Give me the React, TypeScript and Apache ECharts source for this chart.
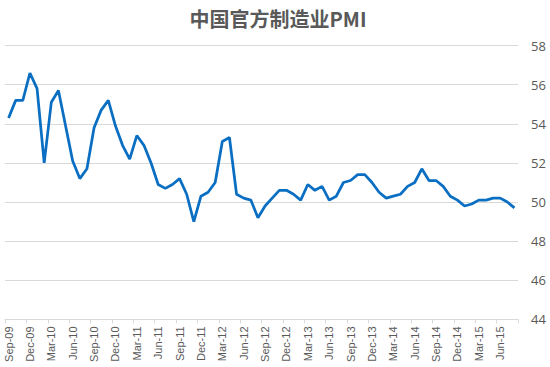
import React, { useEffect, useRef } from "react";
import * as echarts from "echarts";

const TITLE = "中国官方制造业PMI";
const MONTH_NAMES = ["Jan", "Feb", "Mar", "Apr", "May", "Jun", "Jul", "Aug", "Sep", "Oct", "Nov", "Dec"];
const START_YEAR = 2009;
const START_MONTH = 8; // Sep (0-based)
const PMI_VALUES = [
  54.3, 55.2, 55.2, 56.6,
  55.8, 52.0, 55.1, 55.7, 53.9, 52.1, 51.2, 51.7, 53.8, 54.7, 55.2, 53.9,
  52.9, 52.2, 53.4, 52.9, 52.0, 50.9, 50.7, 50.9, 51.2, 50.4, 49.0, 50.3,
  50.5, 51.0, 53.1, 53.3, 50.4, 50.2, 50.1, 49.2, 49.8, 50.2, 50.6, 50.6,
  50.4, 50.1, 50.9, 50.6, 50.8, 50.1, 50.3, 51.0, 51.1, 51.4, 51.4, 51.0,
  50.5, 50.2, 50.3, 50.4, 50.8, 51.0, 51.7, 51.1, 51.1, 50.8, 50.3, 50.1,
  49.8, 49.9, 50.1, 50.1, 50.2, 50.2, 50.0, 49.7,
];
const CATEGORIES = PMI_VALUES.map((_, i) => {
  const m = START_MONTH + i;
  const y = START_YEAR + Math.floor(m / 12);
  return `${MONTH_NAMES[m % 12]}-${String(y % 100).padStart(2, "0")}`;
});
const Y_MIN = 44;
const Y_MAX = 58;
const Y_STEP = 2;

export default function App() {
  const ref = useRef<HTMLDivElement>(null);
  useEffect(() => {
    if (!ref.current) return;
    const chart = echarts.init(ref.current, undefined, { renderer: "svg" });
    chart.setOption({
      animation: false,
      backgroundColor: "#ffffff",
      title: {
        text: TITLE,
        left: 273,
        textAlign: "center",
        top: 3,
        textStyle: {
          fontFamily: "Noto Sans CJK SC",
          fontSize: 20,
          fontWeight: "bold",
          color: "#595959",
        },
      },
      grid: { left: 5, right: 32, top: 45.6, bottom: 47.6, containLabel: false },
      xAxis: {
        type: "category",
        data: CATEGORIES,
        boundaryGap: true,
        axisLine: { show: true, lineStyle: { color: "#d9d9d9", width: 1 } },
        axisTick: { show: true, interval: 2, length: 4, lineStyle: { color: "#d9d9d9" } },
        axisLabel: {
          interval: 2,
          rotate: 90,
          margin: 7,
          fontSize: 11,
          fontFamily: "Liberation Sans",
          color: "#595959",
        },
        splitLine: { show: false },
      },
      yAxis: {
        type: "value",
        position: "right",
        min: Y_MIN,
        max: Y_MAX,
        interval: Y_STEP,
        axisLine: { show: false },
        axisTick: { show: false },
        axisLabel: {
          margin: 13,
          fontSize: 13,
          fontFamily: "Open Sans",
          color: "#595959",
        },
        splitLine: { show: true, lineStyle: { color: "#d9d9d9", width: 1 } },
      },
      series: [
        {
          type: "line",
          data: PMI_VALUES,
          symbol: "none",
          lineStyle: { color: "#0a6fc2", width: 2.75 },
          itemStyle: { color: "#0a6fc2" },
        },
      ],
    });
    return () => chart.dispose();
  }, []);
  return <div ref={ref} style={{ width: 550, height: 367, position: "fixed", left: 0, top: 0 }} />;
}
